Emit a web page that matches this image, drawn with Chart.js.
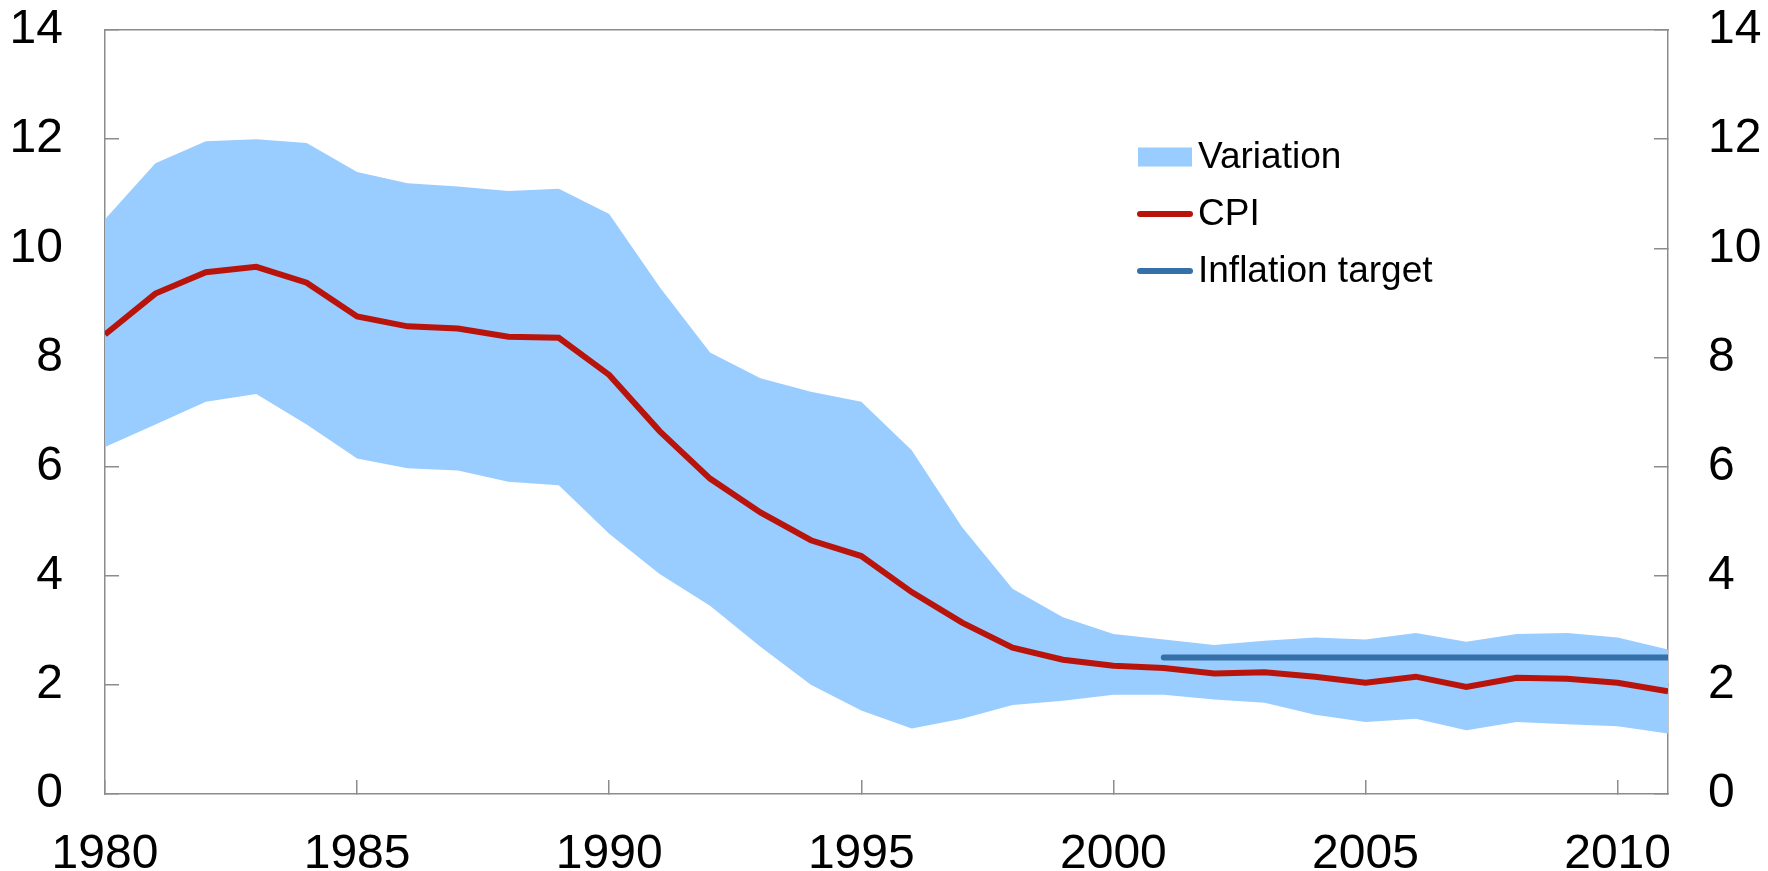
<!DOCTYPE html>
<html>
<head>
<meta charset="utf-8">
<script src="https://cdn.jsdelivr.net/npm/chart.js@4/dist/chart.umd.min.js"></script>
<style>
html, body { margin: 0; padding: 0; background: #fff; }
#wrap { width: 1768px; height: 871px; }
</style>
</head>
<body>
<div id="wrap"><canvas id="chart" width="1768" height="871"></canvas></div>
<script>
// values
var years = [1980, 1981, 1982, 1983, 1984, 1985, 1986, 1987, 1988, 1989,
             1990, 1991, 1992, 1993, 1994, 1995, 1996, 1997, 1998, 1999,
             2000, 2001, 2002, 2003, 2004, 2005, 2006, 2007, 2008, 2009,
             2010, 2011];
var cpi = [8.42, 9.17, 9.56, 9.66, 9.37, 8.75, 8.57, 8.53, 8.38, 8.36,
           7.68, 6.65, 5.78, 5.16, 4.65, 4.36, 3.70, 3.14, 2.68, 2.46,
           2.35, 2.31, 2.21, 2.23, 2.15, 2.04, 2.15, 1.96, 2.13, 2.11,
           2.04, 1.88];
var bandHigh = [10.53, 11.56, 11.96, 12.00, 11.93, 11.40, 11.19, 11.13, 11.05, 11.09,
                10.63, 9.29, 8.09, 7.62, 7.37, 7.19, 6.30, 4.89, 3.76, 3.24,
                2.93, 2.83, 2.73, 2.81, 2.87, 2.83, 2.95, 2.79, 2.93, 2.95,
                2.87, 2.65];
var bandLow = [6.36, 6.77, 7.19, 7.33, 6.77, 6.15, 5.97, 5.93, 5.72, 5.66,
               4.77, 4.03, 3.45, 2.70, 2.00, 1.53, 1.20, 1.38, 1.63, 1.71,
               1.82, 1.82, 1.73, 1.67, 1.45, 1.32, 1.38, 1.17, 1.32, 1.28,
               1.24, 1.11];
var targetYears = [2001, 2011];
var targetValues = [2.5, 2.5];
var xTicks = [1980, 1985, 1990, 1995, 2000, 2005, 2010];
var yTicks = [0, 2, 4, 6, 8, 10, 12, 14];

function toPoints(xs, ys) {
    var pts = [];
    for (var i = 0; i < xs.length; i++) {
        pts.push({ x: xs[i], y: ys[i] });
    }
    return pts;
}

var axisGrey = '#8c8c8c';
var tickFont = { family: 'Liberation Sans, Arial, sans-serif', size: 48 };

// stop the labels from pushing the plot area inwards
function noPadding(s) {
    s.paddingTop = 0;
    s.paddingBottom = 0;
    s.paddingLeft = 0;
    s.paddingRight = 0;
}

// legend drawn inside the plot area
var insideLegend = {
    id: 'insideLegend',
    afterDraw: function (chart, args, opts) {
        var ctx = chart.ctx;
        var sets = chart.data.datasets;
        var row = 0;
        ctx.save();
        ctx.font = opts.fontSize + 'px ' + opts.fontFamily;
        ctx.textBaseline = 'middle';
        ctx.textAlign = 'left';
        for (var i = 0; i < sets.length; i++) {
            var ds = sets[i];
            if (!ds.legendKind) continue;
            var y = opts.top + row * opts.rowGap;
            if (ds.legendKind === 'box') {
                ctx.fillStyle = ds.backgroundColor;
                ctx.fillRect(opts.left, y - opts.boxHeight / 2, opts.markerWidth, opts.boxHeight);
            } else {
                ctx.strokeStyle = ds.borderColor;
                ctx.lineWidth = ds.borderWidth;
                ctx.lineCap = 'round';
                ctx.beginPath();
                ctx.moveTo(opts.left + 2, y);
                ctx.lineTo(opts.left + opts.markerWidth - 2, y);
                ctx.stroke();
            }
            ctx.fillStyle = '#000';
            ctx.fillText(ds.label, opts.left + opts.markerWidth + 6, y + 1);
            row++;
        }
        ctx.restore();
    }
};

function yScale(pos, width, pad) {
    return {
        type: 'linear',
        position: pos,
        min: 0,
        max: 14,
        afterBuildTicks: function (axis) {
            axis.ticks = yTicks.map(function (v) { return { value: v }; });
        },
        afterFit: function (s) { s.width = width; noPadding(s); },
        ticks: { color: '#000', font: tickFont, padding: pad },
        grid: { drawOnChartArea: false, drawTicks: true, tickLength: -14, color: axisGrey, lineWidth: 1.5 },
        border: { display: true, color: axisGrey, width: 1.5 }
    };
}

var ctx = document.getElementById('chart');
var chart = new Chart(ctx, {
    type: 'line',
    data: {
        datasets: [
            {
                label: 'Variation',
                legendKind: 'box',
                data: toPoints(years, bandHigh),
                borderWidth: 0,
                pointRadius: 0,
                backgroundColor: '#99ccff',
                fill: '+1',
                order: 3
            },
            {
                label: 'low',
                data: toPoints(years, bandLow),
                borderWidth: 0,
                pointRadius: 0,
                backgroundColor: '#99ccff',
                fill: false,
                order: 4
            },
            {
                label: 'CPI',
                legendKind: 'line',
                data: toPoints(years, cpi),
                borderColor: '#b8140b',
                borderWidth: 6,
                pointRadius: 0,
                fill: false,
                tension: 0,
                order: 2
            },
            {
                label: 'Inflation target',
                legendKind: 'line',
                data: toPoints(targetYears, targetValues),
                borderColor: '#3571a8',
                borderWidth: 6,
                borderCapStyle: 'round',
                pointRadius: 0,
                fill: false,
                order: 1
            }
        ]
    },
    options: {
        responsive: false,
        animation: false,
        devicePixelRatio: 1,
        layout: { padding: 0 },
        plugins: {
            legend: { display: false },
            tooltip: { enabled: false },
            insideLegend: {
                left: 1138,
                top: 157,
                rowGap: 57,
                markerWidth: 54,
                boxHeight: 19,
                fontSize: 37,
                fontFamily: 'Liberation Sans, Arial, sans-serif'
            }
        },
        scales: {
            x: {
                type: 'linear',
                position: 'bottom',
                min: 1980,
                max: 2011,
                afterBuildTicks: function (axis) {
                    axis.ticks = xTicks.map(function (v) { return { value: v }; });
                },
                afterFit: function (s) { s.height = 77; noPadding(s); },
                ticks: { color: '#000', font: tickFont, padding: 46, maxRotation: 0,
                         callback: function (v) { return String(v); } },
                grid: { drawOnChartArea: false, drawTicks: true, tickLength: -14, color: axisGrey, lineWidth: 1.5 },
                border: { display: true, color: axisGrey, width: 1.5 }
            },
            xTop: {
                type: 'linear',
                position: 'top',
                min: 1980,
                max: 2011,
                afterFit: function (s) { s.height = 30; noPadding(s); },
                ticks: { display: false },
                grid: { display: false },
                border: { display: true, color: axisGrey, width: 1.5 }
            },
            y: yScale('left', 105, 56),
            yRight: yScale('right', 100, 54)
        }
    },
    plugins: [insideLegend]
});
</script>
</body>
</html>
